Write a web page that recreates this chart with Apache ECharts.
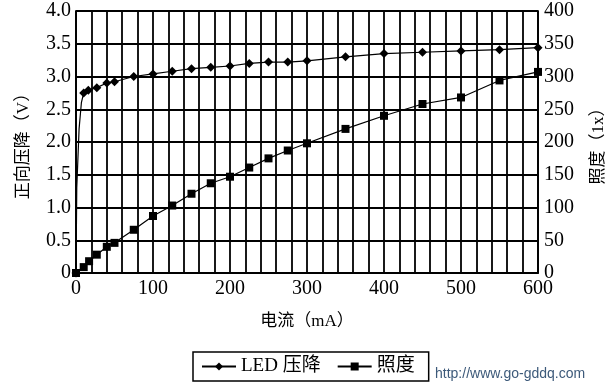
<!DOCTYPE html>
<html><head><meta charset="utf-8">
<script src="https://cdn.jsdelivr.net/npm/echarts@6/dist/echarts.min.js"></script>
<style>html,body{margin:0;padding:0;background:#fff}#c{width:615px;height:390px}</style>
</head><body><div id="c"></div>
<script>
// Data
const ledCurrent = [0, 1, 4, 7, 10, 16, 27, 40, 50, 75, 100, 125, 150, 175, 200, 225, 250, 275, 300, 350, 400, 450, 500, 550, 600];
const ledVoltage = [0, 1.3, 2.2, 2.6, 2.75, 2.79, 2.83, 2.90, 2.92, 3.00, 3.04, 3.08, 3.12, 3.14, 3.16, 3.20, 3.22, 3.22, 3.24, 3.30, 3.35, 3.37, 3.39, 3.41, 3.44];
const luxCurrent = [0, 10, 17, 27, 40, 50, 75, 100, 125, 150, 175, 200, 225, 250, 275, 300, 350, 400, 450, 500, 550, 600];
const luxValue = [0, 9, 18, 28, 40, 46, 66, 87, 103, 121, 137, 147, 161, 175, 187, 198, 220, 240, 258, 268, 294, 307];
const seriesNames = ['LED 压降', '照度'];
const xName = '电流（mA）';
const yLeftName = '正向压降（V）';
const yRightName = '照度（1x）';

const serif = '"Liberation Serif", "Noto Sans CJK SC", serif';
const cjk = '"Liberation Serif", "Noto Sans CJK SC", serif';
const chart = echarts.init(document.getElementById('c'));
const black = '#000';
chart.setOption({
  animation: false,
  backgroundColor: '#fff',
  grid: { left: 76, right: 77, top: 11, bottom: 117 },
  legend: {
    left: 193, top: 352,
    padding: [5, 14, 5, 8],
    borderColor: black, borderWidth: 1.5,
    itemWidth: 34, itemHeight: 10, itemGap: 16,
    textStyle: { fontFamily: cjk, fontSize: 19, color: black },
    data: seriesNames
  },
  xAxis: {
    type: 'value', min: 0, max: 600, interval: 100,
    name: xName, nameLocation: 'middle', nameGap: 40,
    nameTextStyle: { fontFamily: cjk, fontSize: 17, color: black },
    axisLine: { show: true, lineStyle: { color: black, width: 1.8 } },
    axisTick: { show: false },
    minorTick: { show: false, splitNumber: 5 },
    axisLabel: { fontFamily: serif, fontSize: 20, color: black, margin: 6 },
    splitLine: { show: true, lineStyle: { color: black, width: 1.8 } },
    minorSplitLine: { show: true, lineStyle: { color: black, width: 1.8 } }
  },
  yAxis: [{
    type: 'value', min: 0, max: 4, interval: 0.5, position: 'left',
    name: yLeftName, nameLocation: 'middle', nameGap: 44, nameRotate: 90,
    nameTextStyle: { fontFamily: cjk, fontSize: 17, color: black },
    axisLine: { show: true, lineStyle: { color: black, width: 1.8 } },
    axisTick: { show: false },
    axisLabel: { fontFamily: serif, fontSize: 20, color: black, margin: 5,
      formatter: v => v === 0 ? '0' : v.toFixed(1) },
    splitLine: { show: true, lineStyle: { color: black, width: 1.8 } }
  }, {
    type: 'value', min: 0, max: 400, interval: 50, position: 'right',
    name: yRightName, nameLocation: 'middle', nameGap: 52, nameRotate: 90,
    nameTextStyle: { fontFamily: cjk, fontSize: 17, color: black },
    axisLine: { show: true, lineStyle: { color: black, width: 1.8 } },
    axisTick: { show: false },
    axisLabel: { fontFamily: serif, fontSize: 20, color: black, margin: 6 },
    splitLine: { show: false }
  }],
  series: [{
    name: seriesNames[0], type: 'line', yAxisIndex: 0,
    data: ledCurrent.map((x, i) => [x, ledVoltage[i]]),
    symbol: 'diamond',
    symbolSize: v => (v[0] > 0 && v[0] < 10) ? 0 : 9,
    showAllSymbol: true,
    lineStyle: { color: black, width: 1.2 },
    itemStyle: { color: black }
  }, {
    name: seriesNames[1], type: 'line', yAxisIndex: 1,
    data: luxCurrent.map((x, i) => [x, luxValue[i]]),
    symbol: 'rect', symbolSize: 8,
    showAllSymbol: true,
    lineStyle: { color: black, width: 1.2 },
    itemStyle: { color: black }
  }],
  graphic: [{
    type: 'text', left: 435, top: 367,
    style: { text: 'http://www.go-gddq.com', fill: '#3d5a7a',
      font: '14px "Liberation Sans", Arial, sans-serif' }
  }]
});
</script></body></html>
